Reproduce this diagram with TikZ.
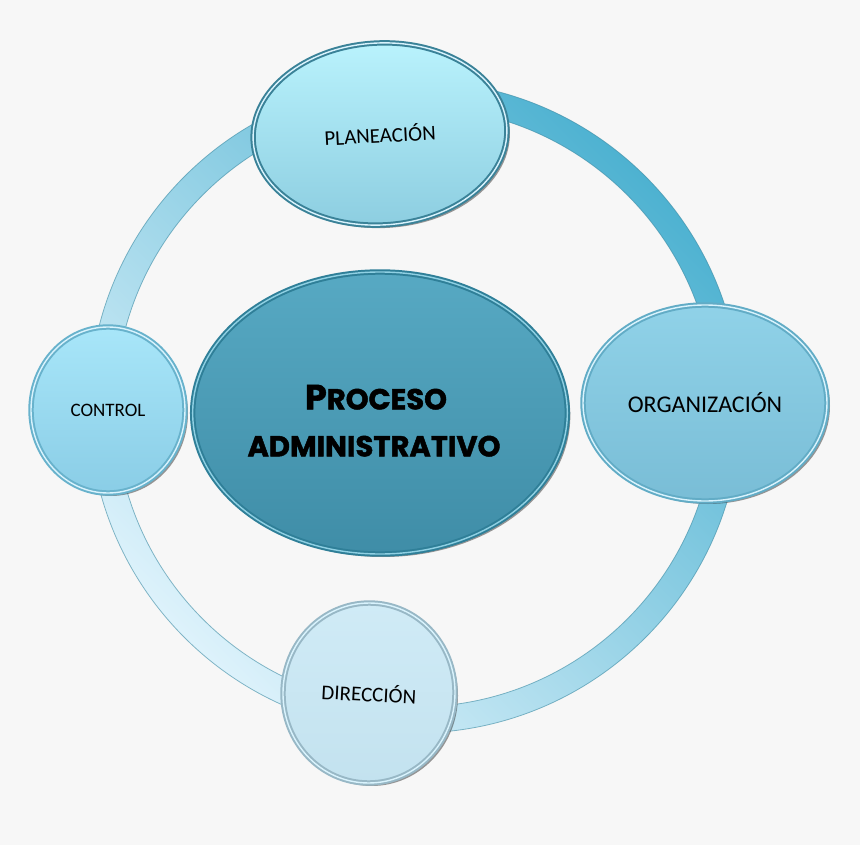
\documentclass[tikz,border=0pt]{standalone}
\usepackage{fontspec}
\setmainfont{Carlito}
\newfontfamily\procfont{Poppins}[BoldFeatures={FakeBold=1.6}]
\usetikzlibrary{shapes.geometric,shadows}

\definecolor{bgcol}{HTML}{F7F7F7}
\definecolor{ringdark}{HTML}{4EB2D1}
\definecolor{ringlight}{HTML}{DDF2FB}
\definecolor{ringedge}{HTML}{3F8FA8}
\definecolor{procrim}{HTML}{2F7F98}
\definecolor{prochi}{HTML}{8FD0E3}
\definecolor{proctop}{HTML}{57A9C3}
\definecolor{procbot}{HTML}{3F8DA7}
\definecolor{planrim}{HTML}{3A8298}
\definecolor{plantop}{HTML}{BAF3FD}
\definecolor{planbot}{HTML}{8CCDE0}
\definecolor{orgrim}{HTML}{62ACC6}
\definecolor{orgtop}{HTML}{90D2E8}
\definecolor{orgbot}{HTML}{79BDD6}
\definecolor{dirrim}{HTML}{98B8C6}
\definecolor{dirtop}{HTML}{D0EBF6}
\definecolor{dirbot}{HTML}{C3E2EF}
\definecolor{ctrlrim}{HTML}{68B2CC}
\definecolor{ctrltop}{HTML}{A8E6F9}
\definecolor{ctrlbot}{HTML}{8ACDE6}

\tikzset{
  bubble/.style={ellipse, inner sep=0pt, text=black, line width=2pt,
    double distance=1.4pt, double=white!85!cyan,
    drop shadow={shadow xshift=3pt, shadow yshift=-3pt, opacity=.5, fill=black!80}},
  label font/.style={font=\fontsize{#1}{#1}\selectfont},
}

\begin{document}
\begin{tikzpicture}[x=1pt, y=-1pt]

\def\rout{326}; % ring outer
\def\rin{300}; % ring inner

\useasboundingbox (0,0) rectangle (860,845);
\fill[bgcol] (0,0) rectangle (860,845);

\coordinate (hub) at (415,407);

% ring
\fill[black, opacity=.12, even odd rule, xshift=2pt, yshift=-2pt]
  (hub) circle [radius=\rout] (hub) circle [radius=\rin];
\shade[even odd rule, top color=ringdark, bottom color=ringlight, shading angle=-45]
  (hub) circle [radius=\rout] (hub) circle [radius=\rin];
\draw[ringedge, opacity=.6, line width=.8pt] (hub) circle [radius=\rout];
\draw[ringedge, opacity=.6, line width=.8pt] (hub) circle [radius=\rin];

% centre
\node[bubble, minimum width=370, minimum height=282, draw=procrim, double=prochi,
  top color=proctop, bottom color=procbot, align=center,
  font=\procfont\bfseries\fontsize{29}{47}\selectfont]
  (proc) at (380,413) {\rule{0pt}{40pt}{\fontsize{35}{47}\selectfont P}ROCESO\hspace*{8pt}\\ADMINISTRATIVO\hspace*{12pt}};

% phases
\node[bubble, minimum width=254, minimum height=182, rotate=3, draw=planrim,
  top color=plantop, bottom color=planbot, label font=21]
  (plan) at (380,134) {PLANEACIÓN};
\node[bubble, minimum width=244, minimum height=196, draw=orgrim,
  top color=orgtop, bottom color=orgbot, label font=24]
  (org) at (705,403) {ORGANIZACIÓN};
\node[bubble, minimum width=172, minimum height=180, rotate=-3, draw=dirrim,
  top color=dirtop, bottom color=dirbot, label font=21]
  (dir) at (369,693) {DIRECCIÓN};
\node[bubble, minimum width=154, minimum height=166, draw=ctrlrim,
  top color=ctrltop, bottom color=ctrlbot, label font=19]
  (ctrl) at (108,410) {CONTROL};

\end{tikzpicture}
\end{document}
